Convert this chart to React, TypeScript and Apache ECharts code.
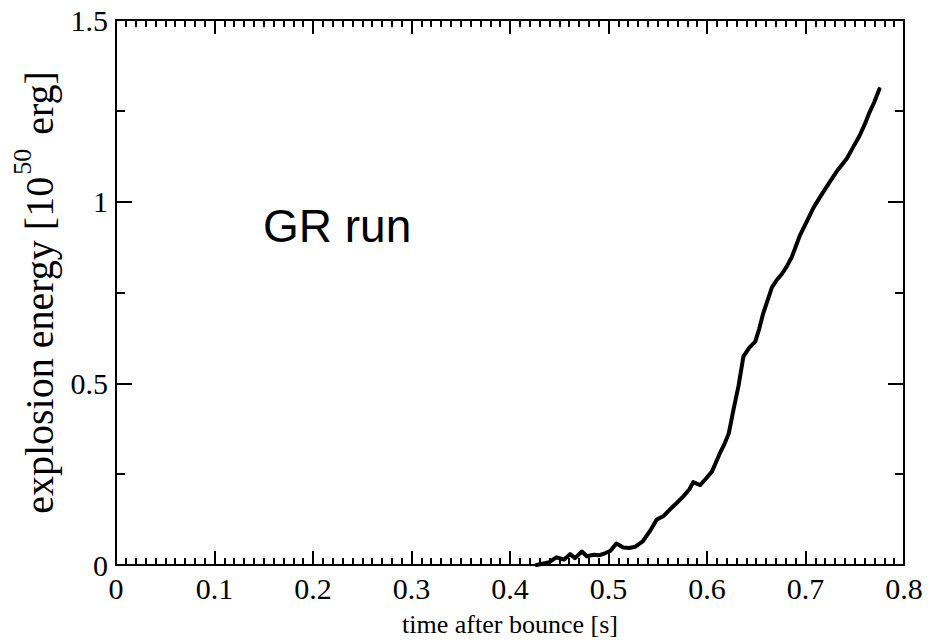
import React, { useEffect, useRef } from "react";
import * as echarts from "echarts";

const timeValues = [0.427, 0.44, 0.447, 0.455, 0.461, 0.466, 0.473, 0.478, 0.485, 0.491, 0.497, 0.502, 0.508, 0.515, 0.521, 0.527, 0.535, 0.542, 0.549, 0.556, 0.562, 0.569, 0.576, 0.582, 0.586, 0.593, 0.599, 0.605, 0.613, 0.618, 0.622, 0.627, 0.632, 0.637, 0.643, 0.649, 0.653, 0.657, 0.666, 0.671, 0.676, 0.681, 0.686, 0.694, 0.703, 0.708, 0.716, 0.725, 0.733, 0.742, 0.748, 0.755, 0.76, 0.765, 0.77, 0.775];
const energyValues = [0.0, 0.008, 0.021, 0.015, 0.03, 0.019, 0.037, 0.024, 0.028, 0.027, 0.033, 0.039, 0.059, 0.048, 0.047, 0.05, 0.066, 0.093, 0.125, 0.135, 0.152, 0.17, 0.189, 0.208, 0.228, 0.22, 0.238, 0.257, 0.307, 0.335, 0.361, 0.429, 0.493, 0.574, 0.598, 0.615, 0.65, 0.692, 0.765, 0.785, 0.801, 0.822, 0.847, 0.905, 0.955, 0.983, 1.018, 1.056, 1.088, 1.119, 1.148, 1.182, 1.212, 1.246, 1.275, 1.31];
const xTicks = { min: 0, max: 0.8, interval: 0.1 };
const yTicks = { min: 0, max: 1.5, interval: 0.5 };
const xTitle = "time after bounce [s]";
const yTitleParts = ["explosion energy [10", "50", " erg]"];
const annotation = "GR run";

const SERIF = "'Liberation Serif', 'Times New Roman', serif";

export default function App() {
  const ref = useRef<HTMLDivElement>(null);
  useEffect(() => {
    if (!ref.current) return;
    const chart = echarts.init(ref.current, undefined, { renderer: "svg" });
    const line = { show: true, lineStyle: { color: "#000", width: 2 } };
    const fmt = (v: number) => String(Number(v.toFixed(2)));
    const baseX = {
      type: "value" as const,
      min: xTicks.min,
      max: xTicks.max,
      interval: xTicks.interval,
      axisLine: { ...line, onZero: false },
      axisTick: { show: true, inside: true, length: 14, lineStyle: { color: "#000", width: 2 } },
      minorTick: { show: true, splitNumber: 10, length: 7, lineStyle: { color: "#000", width: 2 } },
      splitLine: { show: false },
      minorSplitLine: { show: false },
    };
    const baseY = {
      type: "value" as const,
      min: yTicks.min,
      max: yTicks.max,
      interval: yTicks.interval,
      axisLine: { ...line, onZero: false },
      axisTick: { show: true, inside: true, length: 16, lineStyle: { color: "#000", width: 2 } },
      minorTick: { show: true, splitNumber: 2, length: 9, lineStyle: { color: "#000", width: 2 } },
      splitLine: { show: false },
      minorSplitLine: { show: false },
    };
    chart.setOption({
      animation: false,
      backgroundColor: "#fff",
      grid: { left: 116, right: 38, top: 20, bottom: 71, containLabel: false },
      xAxis: [
        {
          ...baseX,
          position: "bottom",
          axisLabel: { formatter: fmt, fontFamily: SERIF, fontSize: 30, color: "#000", margin: 8 },
          name: xTitle,
          nameLocation: "middle",
          nameGap: 46,
          nameTextStyle: { fontFamily: SERIF, fontSize: 26, color: "#000" },
        },
        { ...baseX, position: "top", axisLabel: { show: false } },
      ],
      yAxis: [
        {
          ...baseY,
          position: "left",
          axisLabel: { formatter: fmt, fontFamily: SERIF, fontSize: 30, color: "#000", margin: 8 },
          name: `{a|${yTitleParts[0]}}{s|${yTitleParts[1]}}{a|${yTitleParts[2]}}`,
          nameLocation: "middle",
          nameGap: 52,
          nameRotate: 90,
          nameTextStyle: {
            rich: {
              a: { fontFamily: SERIF, fontSize: 40, color: "#000", lineHeight: 50, verticalAlign: "bottom" },
              s: { fontFamily: SERIF, fontSize: 26, color: "#000", lineHeight: 50, verticalAlign: "top", padding: [0, 4, 0, 2] },
            },
          },
        },
        { ...baseY, position: "right", axisLabel: { show: false } },
      ],
      graphic: [
        {
          type: "text",
          x: 263,
          y: 226,
          style: {
            text: annotation,
            font: "46px 'Liberation Sans', Arial, sans-serif",
            fill: "#000",
            textAlign: "left",
            textVerticalAlign: "middle",
          },
        },
      ],
      series: [
        {
          type: "line",
          xAxisIndex: 0,
          yAxisIndex: 0,
          data: timeValues.map((t, i) => [t, energyValues[i]]),
          showSymbol: false,
          symbol: "none",
          lineStyle: { color: "#000", width: 4, join: "round", cap: "round" },
        },
      ],
    });
    return () => chart.dispose();
  }, []);
  return <div ref={ref} style={{ width: 942, height: 642, position: "absolute", left: 0, top: 0 }} />;
}
